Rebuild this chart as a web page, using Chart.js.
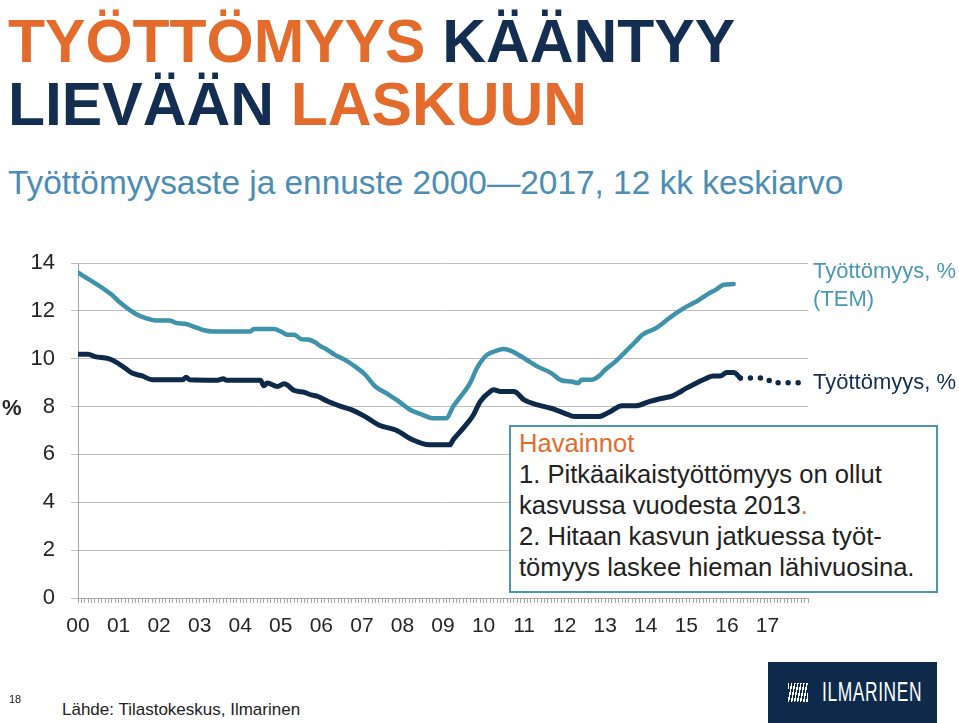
<!DOCTYPE html>
<html lang="fi">
  <head>
    <meta charset="UTF-8" />
    <title>Työttömyys kääntyy lievään laskuun</title>
    <style>
      body {
        margin: 0;
        width: 959px;
        height: 723px;
        position: relative;
        overflow: hidden;
        background: #ffffff;
        font-family: "Liberation Sans", Arial, sans-serif;
      }
      .abs {
        position: absolute;
        white-space: nowrap;
      }
      #title {
        left: 8px;
        top: 10px;
        font-size: 60.6px;
        font-weight: bold;
        line-height: 63px;
      }
      .orange {
        color: #e36c2c;
      }
      .navy {
        color: #132e50;
      }
      #subtitle {
        left: 8px;
        top: 163px;
        font-size: 33.4px;
        line-height: 40px;
        color: #4b8db5;
      }
      #chartBox {
        left: 0;
        top: 250px;
        width: 959px;
        height: 410px;
      }
      #pct {
        left: 2px;
        top: 395px;
        font-size: 22px;
        font-weight: bold;
        line-height: 26px;
        color: #262626;
      }
      .legend {
        left: 813px;
        font-size: 22px;
        line-height: 28px;
      }
      #note {
        left: 509px;
        top: 425px;
        width: 411px;
        height: 160px;
        padding: 1px 6px 3px 8px;
        border: 2px solid #4a98ae;
        background: #ffffff;
        font-size: 25.6px;
        line-height: 31px;
        color: #222222;
      }
      #source {
        left: 62px;
        top: 700px;
        font-size: 17px;
        line-height: 20px;
        color: #222222;
      }
      #pageNo {
        left: 9px;
        top: 693px;
        font-size: 11px;
        color: #222222;
      }
      #logo {
        left: 768px;
        top: 662px;
        width: 169px;
        height: 61px;
        background: #0d2a4a;
      }
      #logoMark {
        position: absolute;
        left: 20px;
        top: 21px;
        width: 20px;
        height: 19px;
        background: repeating-linear-gradient(
          100deg,
          #ffffff 0 1.5px,
          transparent 1.5px 3px
        );
      }
      #logoText {
        position: absolute;
        left: 54px;
        top: 14px;
        font-size: 28px;
        line-height: 32px;
        color: #ffffff;
        transform: scaleX(0.62);
        transform-origin: left center;
        letter-spacing: 1px;
      }
    </style>
  </head>
  <body>
    <div id="title" class="abs">
      <span class="orange">TYÖTTÖMYYS</span> <span class="navy">KÄÄNTYY</span><br />
      <span class="navy">LIEVÄÄN</span> <span class="orange">LASKUUN</span>
    </div>
    <div id="subtitle" class="abs">
      Työttömyysaste ja ennuste 2000—2017, 12 kk keskiarvo
    </div>

    <div id="chartBox" class="abs">
      <canvas id="myChart" width="959" height="410"></canvas>
    </div>

    <div id="pct" class="abs">%</div>
    <div class="abs legend" style="top: 257px; color: #4a98b4">
      Työttömyys, %<br />(TEM)
    </div>
    <div class="abs legend" style="top: 368px; color: #14304f">
      Työttömyys, %
    </div>

    <div id="note" class="abs">
      <span class="orange">Havainnot</span><br />
      1. Pitkäaikaistyöttömyys on ollut<br />
      kasvussa vuodesta 2013<span class="orange">.</span><br />
      2. Hitaan kasvun jatkuessa työt-<br />
      tömyys laskee hieman lähivuosina.
    </div>

    <div id="pageNo" class="abs">18</div>
    <div id="source" class="abs">Lähde: Tilastokeskus, Ilmarinen</div>
    <div id="logo" class="abs">
      <div id="logoMark"></div>
      <div id="logoText">ILMARINEN</div>
    </div>

    <script src="https://cdn.jsdelivr.net/npm/chart.js"></script>
    <script>
      // months counted from Jan 2000 (0) to Dec 2017 (215), axis ends at 216
      const yearLabels = ["00", "01", "02", "03", "04", "05", "06", "07", "08",
        "09", "10", "11", "12", "13", "14", "15", "16", "17"];
      const yTicks = [0, 2, 4, 6, 8, 10, 12, 14];

      // Työttömyys, % (TEM)
      const temMonths = [0, 10, 12, 17, 20, 23, 27, 29, 32, 35, 37, 40, 51, 52,
        58, 60, 62, 64, 66, 68, 70, 72, 73, 76, 79, 82, 85, 88, 92, 95, 98, 102,
        105, 109, 111, 116, 118, 121, 124, 126, 128, 132, 136, 140, 143, 146,
        148, 149, 152, 154, 156, 159, 162, 165, 167, 171, 175, 178, 181, 183,
        186, 189, 191, 194];
      const temValues = [13.6, 12.67, 12.4, 11.88, 11.7, 11.6, 11.6, 11.5, 11.45,
        11.3, 11.2, 11.14, 11.14, 11.24, 11.24, 11.14, 11.0, 11.0, 10.82, 10.8,
        10.7, 10.5, 10.44, 10.16, 9.95, 9.67, 9.33, 8.84, 8.49, 8.21, 7.89, 7.65,
        7.51, 7.51, 8.0, 8.98, 9.6, 10.16, 10.34, 10.41, 10.34, 10.02, 9.67, 9.4,
        9.1, 9.05, 8.98, 9.12, 9.12, 9.26, 9.54, 9.88, 10.3, 10.72, 11.0, 11.28,
        11.7, 12.0, 12.25, 12.39, 12.67, 12.91, 13.09, 13.12];

      // Työttömyys, % (Tilastokeskus, trendi)
      const tkMonths = [0, 3, 5, 9, 11, 14, 16, 19, 22, 31, 32, 33, 41, 43, 44,
        54, 55, 56, 59, 61, 64, 67, 69, 71, 74, 78, 81, 85, 89, 94, 99, 104, 110,
        111, 114, 117, 119, 122, 123, 125, 129, 132, 136, 140, 144, 147, 154,
        157, 161, 165, 169, 173, 176, 178, 180, 182, 185, 188, 190, 192, 194,
        196];
      const tkValues = [10.19, 10.19, 10.09, 10.0, 9.88, 9.6, 9.4, 9.28, 9.12,
        9.12, 9.23, 9.12, 9.1, 9.16, 9.1, 9.1, 8.87, 8.98, 8.84, 8.95, 8.67, 8.59,
        8.49, 8.42, 8.21, 8.0, 7.86, 7.58, 7.23, 7.02, 6.61, 6.4, 6.4, 6.61, 7.1,
        7.65, 8.21, 8.63, 8.7, 8.63, 8.63, 8.28, 8.07, 7.93, 7.72, 7.58, 7.58,
        7.75, 8.03, 8.03, 8.21, 8.35, 8.45, 8.6, 8.77, 8.91, 9.12, 9.28, 9.28,
        9.42, 9.42, 9.19];

      // ennuste
      const forecastMonths = [196, 204, 205, 216];
      const forecastValues = [9.19, 9.19, 9.0, 9.0];

      const toPoints = (xs, ys) => xs.map((m, i) => ({ x: m, y: ys[i] }));

      const data = {
        datasets: [
          {
            label: "Työttömyys, % (TEM)",
            data: toPoints(temMonths, temValues),
            borderColor: "#3f92ab",
            borderWidth: 4.5,
            cubicInterpolationMode: "monotone",
            borderCapStyle: "round",
            borderJoinStyle: "round",
          },
          {
            label: "Työttömyys, %",
            data: toPoints(tkMonths, tkValues),
            borderColor: "#0e2a4a",
            borderWidth: 5,
            cubicInterpolationMode: "monotone",
            borderCapStyle: "round",
            borderJoinStyle: "round",
          },
          {
            label: "Ennuste",
            data: toPoints(forecastMonths, forecastValues),
            borderColor: "#0e2a4a",
            borderWidth: 5.5,
            borderDash: [0, 10],
            borderCapStyle: "round",
          },
        ],
      };

      const config = {
        type: "line",
        data: data,
        options: {
          responsive: false,
          animation: false,
          elements: { point: { radius: 0 } },
          layout: { padding: { top: 13, right: 151, left: 0, bottom: 0 } },
          plugins: {
            legend: { display: false },
            tooltip: { enabled: false },
          },
          scales: {
            x: {
              type: "linear",
              min: 0,
              max: 216,
              afterFit: (s) => {
                s.height = 62;
                s.paddingLeft = 0;
                s.paddingRight = 0;
              },
              afterBuildTicks: (s) => {
                s.ticks = [];
                for (let m = 0; m <= 216; m++) s.ticks.push({ value: m });
              },
              ticks: {
                autoSkip: false,
                maxRotation: 0,
                minRotation: 0,
                padding: 11,
                color: "#262626",
                font: { family: "'Liberation Sans', Arial", size: 21 },
                callback: (v) =>
                  v % 12 === 0 && v / 12 < yearLabels.length
                    ? yearLabels[v / 12]
                    : "",
              },
              grid: {
                drawOnChartArea: false,
                tickLength: 5,
                color: "#a6a6a6",
              },
              border: { color: "#a6a6a6" },
            },
            y: {
              min: 0,
              max: 14,
              afterFit: (s) => {
                s.width = 78;
                s.paddingTop = 0;
                s.paddingBottom = 0;
              },
              afterBuildTicks: (s) => {
                s.ticks = yTicks.map((v) => ({ value: v }));
              },
              ticks: {
                padding: 16,
                color: "#262626",
                font: { family: "'Liberation Sans', Arial", size: 22 },
              },
              grid: { color: "#bfbfbf", tickLength: 7 },
              border: { color: "#a6a6a6" },
            },
          },
        },
      };
      const myChart = new Chart(document.getElementById("myChart"), config);
    </script>
  </body>
</html>
